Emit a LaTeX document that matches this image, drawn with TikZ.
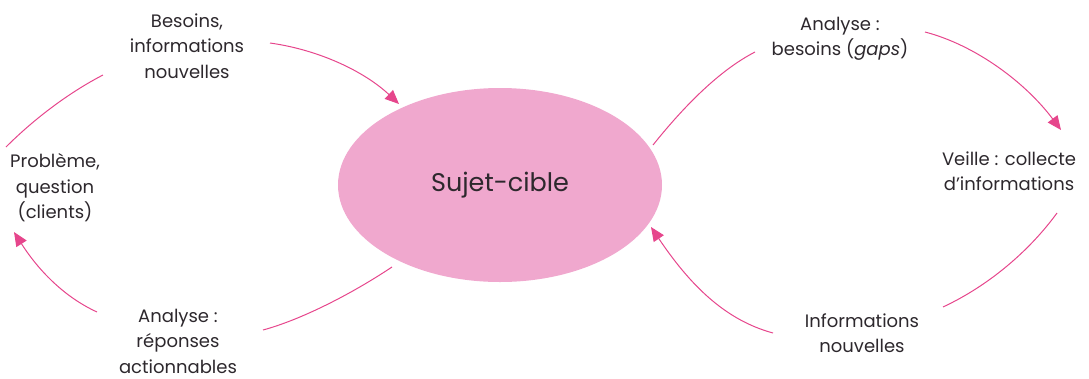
\documentclass[tikz,border=0pt]{standalone}
\usepackage{fontspec}
\setmainfont{Poppins}
\usetikzlibrary{arrows.meta,shapes.geometric}
\definecolor{lnpink}{RGB}{230,70,140}
\definecolor{elpink}{RGB}{240,168,206}
\definecolor{txt}{RGB}{45,40,45}
\tikzset{
  lbl/.style={align=center,text=txt,font=\fontsize{18}{25.5}\selectfont,inner sep=0pt},
  conn/.style={draw=lnpink,line width=1pt},
  arr/.style={conn,-{Triangle[length=14pt,width=12pt]}},
}
\begin{document}
\begin{tikzpicture}[x=1pt,y=-1pt]
\useasboundingbox (0,0) rectangle (1089,378);
\node[ellipse,fill=elpink,minimum width=324pt,minimum height=194pt,inner sep=0pt,font=\fontsize{25.5}{30}\selectfont,text=txt] (S) at (500,185) {Sujet-cible};
\node[lbl] (B) at (187,46) {Besoins,\\informations\\nouvelles};
\node[lbl] (P) at (55,188) {Problème,\\question\\(clients)};
\node[lbl] (R) at (178,341) {Analyse :\\réponses\\actionnables};
\node[lbl] (G) at (840,39) {Analyse :\\besoins (\textit{gaps})};
\node[lbl] (V) at (1009,171) {Veille : collecte\\d’informations};
\node[lbl] (I) at (862,333) {Informations\\nouvelles};
% connector end points
\coordinate (b1) at (270,43);  \coordinate (b2) at (399,104);
\coordinate (p1) at (6,147);   \coordinate (p2) at (103,75);
\coordinate (r1) at (97,312);  \coordinate (r2) at (14,232);
\coordinate (s1) at (392,267); \coordinate (s2) at (263,330);
\coordinate (s3) at (653,145); \coordinate (s4) at (755,52);
\coordinate (g1) at (925,32);  \coordinate (g2) at (1061,130);
\coordinate (v1) at (1057,213);\coordinate (v2) at (943,307);
\coordinate (i1) at (773,333); \coordinate (i2) at (651,227);
\draw[arr] (b1) .. controls (320,50) and (365,72) .. (b2);
\draw[conn] (p1) .. controls (35,118) and (70,92) .. (p2);
\draw[arr] (r1) .. controls (60,295) and (35,265) .. (r2);
\draw[conn] (s1) .. controls (350,295) and (300,320) .. (s2);
\draw[conn] (s3) .. controls (685,105) and (720,70) .. (s4);
\draw[arr] (g1) .. controls (975,45) and (1025,82) .. (g2);
\draw[conn] (v1) .. controls (1030,250) and (990,285) .. (v2);
\draw[arr] (i1) .. controls (725,320) and (690,285) .. (i2);
\end{tikzpicture}
\end{document}
